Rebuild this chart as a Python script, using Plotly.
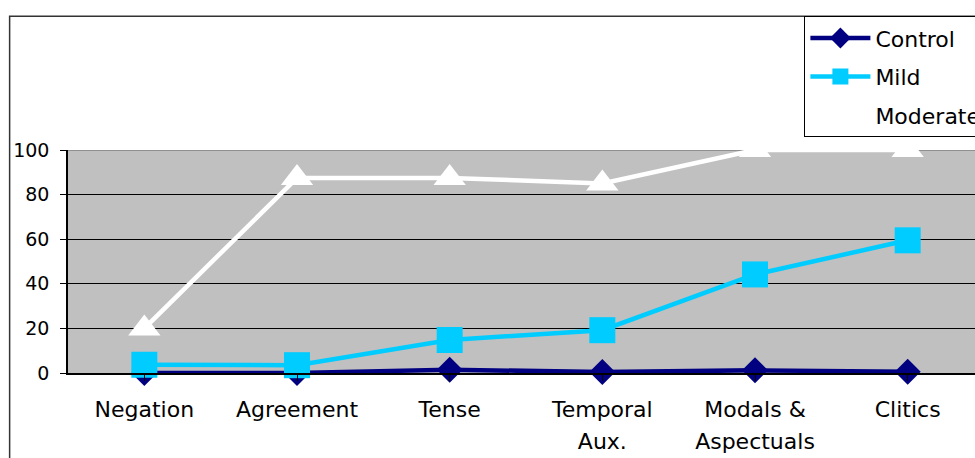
import plotly.graph_objects as go

categories = ["Negation", "Agreement", "Tense", "Temporal<br>Aux.", "Modals &<br>Aspectuals", "Clitics"]
control = [0, 0, 1.5, 0.4, 1.2, 0.6]
mild = [3.7, 3.5, 14.8, 19.2, 44.2, 59.5]
moderate = [20, 87.5, 87.5, 85, 100, 100]
y_ticks = [0, 20, 40, 60, 80, 100]

FONT = "DejaVu Sans"
XLBL = 22
YLBL = 19
LEG = 22

def wrap(label):
    return "<br>".join(f"<span style='font-size:{XLBL}px'>{p}</span>" for p in label.split("<br>"))

xs = list(range(len(categories)))

W = 990   # chart is wider than the 975px window; the right edge is cropped like the reference
L = 68
R = 4
PW = W - L - R

fig = go.Figure()
fig.add_trace(go.Scatter(x=xs, y=control, name="Control", mode="lines+markers",
                         line=dict(color="#000080", width=4.5),
                         marker=dict(symbol="diamond", size=20, color="#000080"),
                         cliponaxis=False, legendgroup="a"))
fig.add_trace(go.Scatter(x=xs, y=mild, name="Mild", mode="lines+markers",
                         line=dict(color="#00CCFF", width=4.5),
                         marker=dict(symbol="square", size=26, color="#00CCFF"),
                         cliponaxis=False, legendgroup="b"))
fig.add_trace(go.Scatter(x=xs, y=moderate, name="Moderate", mode="lines+markers",
                         line=dict(color="#FFFFFF", width=4.5),
                         marker=dict(symbol="triangle-up", size=28, color="#FFFFFF"),
                         cliponaxis=False, legendgroup="c"))

fig.update_layout(
    width=W, height=458,
    margin=dict(l=L, r=R, t=150, b=83),
    paper_bgcolor="white", plot_bgcolor="#C0C0C0",
    font=dict(family=FONT, size=XLBL, color="black"),
    hovermode=False,
    xaxis=dict(range=[-0.5, 5.5], tickmode="array", tickvals=xs,
               ticktext=[wrap(c) for c in categories],
               tickson="boundaries", ticks="outside", ticklen=6, tickcolor="black",
               showline=True, linecolor="black", linewidth=1.5,
               showgrid=False, zeroline=False,
               tickfont=dict(family=FONT, size=24.6, color="black"),
               ticklabelstandoff=7),
    yaxis=dict(range=[0, 100], tickvals=y_ticks, ticks="outside", ticklen=6,
               tickcolor="black", showline=True, linecolor="black", linewidth=1.5,
               showgrid=True, gridcolor="black", gridwidth=1, zeroline=False,
               tickfont=dict(family=FONT, size=YLBL, color="black"),
               ticklabelstandoff=7),
    legend=dict(x=(806 - L) / PW, y=(375 - 15) / 225, xanchor="left", yanchor="top",
                bgcolor="white", bordercolor="black", borderwidth=1,
                font=dict(family=FONT, size=LEG, color="black"),
                itemwidth=60, traceorder="grouped", tracegroupgap=7),
    shapes=[
        dict(type="line", xref="paper", yref="y", x0=0, x1=1, y0=100, y1=100,
             line=dict(color="#808080", width=1.5), layer="below"),
        dict(type="path", xref="paper", yref="paper",
             path=f"M {(9.5 - L) / PW},-0.5 L {(9.5 - L) / PW},1.6 L 1.2,1.6",
             line=dict(color="#333333", width=1.5)),
    ],
)

fig.write_html("out.html", config={"displayModeBar": False},
               post_script="document.body.style.margin='0';document.body.style.overflow='hidden';"
                           "document.documentElement.style.overflow='hidden';")
